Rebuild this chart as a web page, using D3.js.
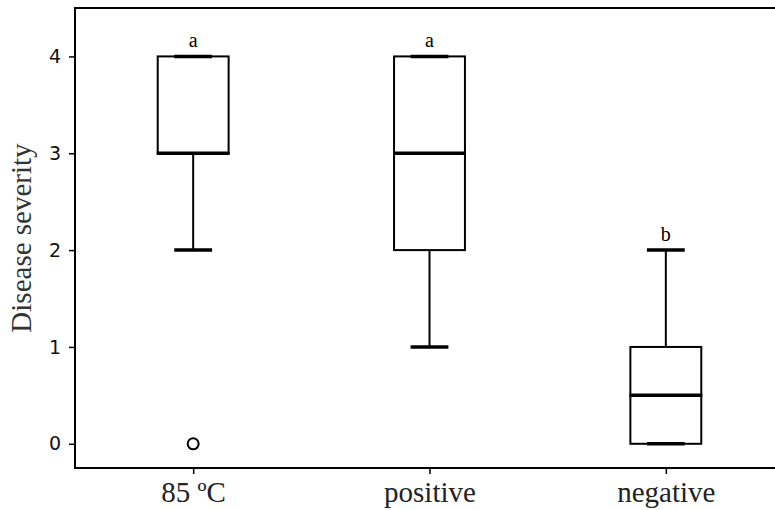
<!DOCTYPE html>
<html lang="en">
<head>
    <meta charset="UTF-8">
    <title>Disease severity box plot</title>
    <script src="https://d3js.org/d3.v7.min.js"></script>
    <style>
        body { margin: 0; background: #fff; }
        svg { display: block; }
    </style>
</head>
<body>
<script>
    // box statistics
    var categories = ["85 ºC", "positive", "negative"];
    var whiskerLow = [2, 1, 0];
    var q1 = [3, 2, 0];
    var medians = [3, 3, 0.5];
    var q3 = [4, 4, 1];
    var whiskerHigh = [4, 4, 2];
    var outliers = [[0], [], []];
    var letters = ["a", "a", "b"];
    var yTicks = [0, 1, 2, 3, 4];

    var w = 775, h = 510;
    var plotLeft = 75, plotRight = 784, plotTop = 8, plotBottom = 468;

    var svg = d3.select("body").append("svg")
        .attr("width", w)
        .attr("height", h);

    // positions 1..3 with half a step of room on each side
    var xScale = d3.scalePoint()
        .domain(categories)
        .range([plotLeft, plotRight])
        .padding(0.5);
    var step = xScale.step();

    var yScale = d3.scaleLinear()
        .domain([-0.25, 4.5])
        .range([plotBottom, plotTop]);

    var boxW = step * 0.3;
    var capW = step * 0.16;

    var groups = categories.map(function(c, i) {
        return { name: c, lo: whiskerLow[i], q1: q1[i], med: medians[i], q3: q3[i],
                 hi: whiskerHigh[i], out: outliers[i], letter: letters[i] };
    });

    // y axis
    var yAxis = d3.axisLeft(yScale).tickValues(yTicks).tickFormat(d3.format("d"))
        .tickSize(6).tickPadding(8);
    var gy = svg.append("g").attr("transform", "translate(" + plotLeft + ",0)").call(yAxis);
    gy.select(".domain").remove();
    gy.selectAll("line").attr("stroke", "#000").attr("stroke-width", 1.5);
    gy.selectAll("text").attr("font-family", "DejaVu Sans").attr("font-size", "19px").attr("fill", "#111");

    // x axis
    var xAxis = d3.axisBottom(xScale).tickSize(6).tickPadding(7.5);
    var gx = svg.append("g").attr("transform", "translate(0," + plotBottom + ")").call(xAxis);
    gx.select(".domain").remove();
    gx.selectAll("line").attr("stroke", "#000").attr("stroke-width", 1.5);
    gx.selectAll("text").attr("font-family", "Liberation Serif").attr("font-size", "29px").attr("fill", "#222");

    // frame (right edge falls outside the window)
    svg.append("rect")
        .attr("x", plotLeft).attr("y", plotTop)
        .attr("width", plotRight - plotLeft).attr("height", plotBottom - plotTop)
        .attr("fill", "none").attr("stroke", "#000").attr("stroke-width", 2);

    var g = svg.selectAll(".box").data(groups).enter().append("g").attr("class", "box");

    // whiskers
    g.append("line")
        .attr("x1", function(d) { return xScale(d.name); })
        .attr("x2", function(d) { return xScale(d.name); })
        .attr("y1", function(d) { return yScale(d.lo); })
        .attr("y2", function(d) { return yScale(d.q1); })
        .attr("stroke", "#000").attr("stroke-width", 2);
    g.append("line")
        .attr("x1", function(d) { return xScale(d.name); })
        .attr("x2", function(d) { return xScale(d.name); })
        .attr("y1", function(d) { return yScale(d.q3); })
        .attr("y2", function(d) { return yScale(d.hi); })
        .attr("stroke", "#000").attr("stroke-width", 2);

    // caps
    ["lo", "hi"].forEach(function(k) {
        g.append("line")
            .attr("x1", function(d) { return xScale(d.name) - capW / 2; })
            .attr("x2", function(d) { return xScale(d.name) + capW / 2; })
            .attr("y1", function(d) { return yScale(d[k]); })
            .attr("y2", function(d) { return yScale(d[k]); })
            .attr("stroke", "#000").attr("stroke-width", 3.5);
    });

    // boxes
    g.append("rect")
        .attr("x", function(d) { return xScale(d.name) - boxW / 2; })
        .attr("y", function(d) { return yScale(d.q3); })
        .attr("width", boxW)
        .attr("height", function(d) { return yScale(d.q1) - yScale(d.q3); })
        .attr("fill", "none").attr("stroke", "#000").attr("stroke-width", 2);

    // medians
    g.append("line")
        .attr("x1", function(d) { return xScale(d.name) - boxW / 2 - 1; })
        .attr("x2", function(d) { return xScale(d.name) + boxW / 2 + 1; })
        .attr("y1", function(d) { return yScale(d.med); })
        .attr("y2", function(d) { return yScale(d.med); })
        .attr("stroke", "#000").attr("stroke-width", 3.5);

    // outliers
    g.selectAll("circle")
        .data(function(d) { return d.out.map(function(v) { return { name: d.name, v: v }; }); })
        .enter().append("circle")
        .attr("cx", function(d) { return xScale(d.name); })
        .attr("cy", function(d) { return yScale(d.v); })
        .attr("r", 5.5)
        .attr("fill", "none").attr("stroke", "#000").attr("stroke-width", 2);

    // significance letters
    g.append("text")
        .attr("x", function(d) { return xScale(d.name); })
        .attr("y", function(d) { return yScale(d.hi) - 9; })
        .attr("text-anchor", "middle")
        .attr("font-family", "Liberation Serif")
        .attr("font-size", "20px")
        .attr("fill", "#000")
        .text(function(d) { return d.letter; });

    // y label
    svg.append("text")
        .attr("transform", "translate(31," + ((plotTop + plotBottom) / 2) + ") rotate(-90)")
        .attr("text-anchor", "middle")
        .attr("font-family", "Liberation Serif")
        .attr("font-size", "29px")
        .attr("fill", "#333")
        .text("Disease severity");
</script>
</body>
</html>
